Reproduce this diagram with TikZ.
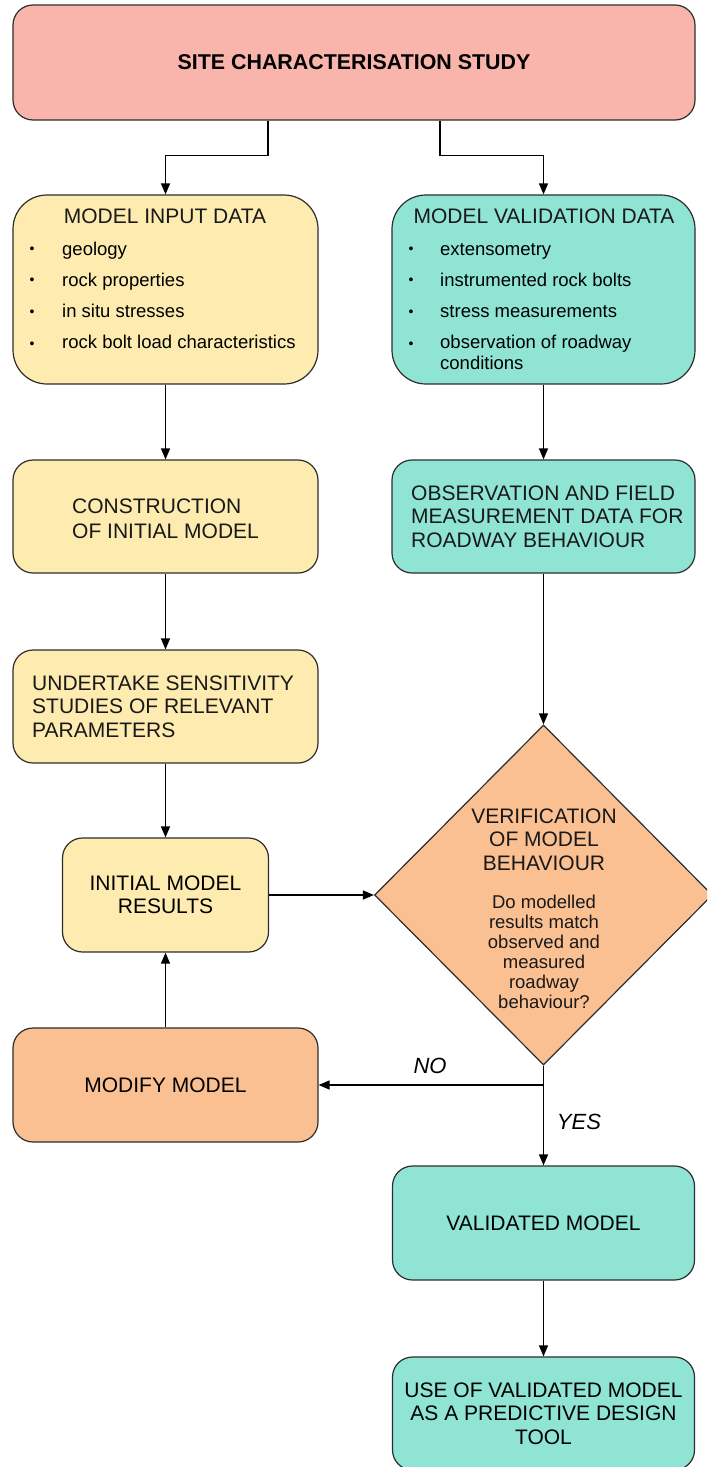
\documentclass[tikz,border=0pt]{standalone}
\usepackage{fontspec}
\setmainfont{Liberation Sans}
\usetikzlibrary{arrows.meta,shapes.geometric}

\definecolor{sitepink}{RGB}{249,181,172}
\definecolor{inputyellow}{RGB}{253,235,176}
\definecolor{validteal}{RGB}{143,228,212}
\definecolor{checkorange}{RGB}{251,192,146}
\definecolor{edgegray}{RGB}{45,45,45}

\newcommand\hdfont{\fontsize{21}{23.5}\selectfont}
\newcommand\bdfont{\fontsize{18.5}{20}\selectfont}

\begin{document}
\begin{tikzpicture}[x=1pt,y=-1pt,
  box/.style={draw=edgegray, line width=1.2pt, rounded corners=20pt, inner sep=0pt,
              font=\hdfont, align=center},
  bigbox/.style={box, rounded corners=34pt},
  txt/.style={inner sep=0pt, text=black!90, font=\hdfont},
  bullet/.style={inner sep=0pt, font=\fontsize{14}{14}\selectfont},
  item/.style={inner sep=0pt, anchor=base west, font=\bdfont},
  arr/.style={draw=black, line width=1.3pt, -{Triangle[length=11pt,width=9pt]}},
  lbl/.style={inner sep=0pt, font=\fontsize{22}{24}\selectfont\itshape}]

\useasboundingbox (0,0) rectangle (707,1467);
\clip (0,0) rectangle (707,1467);

% boxes
\node[box, fill=sitepink, minimum width=682pt, minimum height=115pt] (site) at (354,62.5)
  {\fontsize{21.4}{24}\selectfont\bfseries SITE CHARACTERISATION STUDY};

\node[bigbox, fill=inputyellow, minimum width=305pt, minimum height=189pt] (input) at (165.5,289.5) {};
\node[bigbox, fill=validteal, minimum width=303pt, minimum height=189pt] (valid) at (543.5,289.5) {};

\node[box, fill=inputyellow, minimum width=305pt, minimum height=113pt] (constr) at (165.5,516.5) {};
\node[box, fill=validteal, minimum width=303pt, minimum height=113pt] (obs) at (543.5,516.5) {};

\node[box, fill=inputyellow, minimum width=305pt, minimum height=113pt] (sens) at (165.5,706.5) {};

\node[box, fill=inputyellow, minimum width=206pt, minimum height=114pt] (results) at (165.5,895)
  {INITIAL MODEL\\RESULTS};

\node[diamond, draw=edgegray, line width=1.2pt, fill=checkorange, inner sep=0pt,
      minimum width=338pt, minimum height=340pt] (verif) at (543.5,895) {};

\node[box, fill=checkorange, minimum width=305pt, minimum height=114pt] (modify) at (165.5,1085)
  {MODIFY MODEL};

\node[box, fill=validteal, minimum width=302pt, minimum height=114pt] (validated) at (543.5,1223)
  {VALIDATED MODEL};

\node[box, fill=validteal, minimum width=302pt, minimum height=113pt] (use) at (543.5,1413.5)
  {USE OF VALIDATED MODEL\\AS A PREDICTIVE DESIGN\\TOOL};

% texts of the input data box
\node[txt] (inhead) at (165,216) {MODEL INPUT DATA};
\node[bullet] (inb1) at (32,250) {\textbullet};
\node[bullet] (inb2) at (32,281) {\textbullet};
\node[bullet] (inb3) at (32,313) {\textbullet};
\node[bullet] (inb4) at (32,345) {\textbullet};
\node[item] (ini1) at (62,255) {geology};
\node[item] (ini2) at (62,286) {rock properties};
\node[item] (ini3) at (62,317) {in situ stresses};
\node[item] (ini4) at (62,348) {rock bolt load characteristics};

% texts of the validation data box
\node[txt] (vahead) at (544,216) {MODEL VALIDATION DATA};
\node[bullet] (vab1) at (411,250) {\textbullet};
\node[bullet] (vab2) at (411,281) {\textbullet};
\node[bullet] (vab3) at (411,313) {\textbullet};
\node[bullet] (vab4) at (411,345) {\textbullet};
\node[item] (vai1) at (440,255) {extensometry};
\node[item] (vai2) at (440,286) {instrumented rock bolts};
\node[item] (vai3) at (440,317) {stress measurements};
\node[item] (vai4) at (440,348) {observation of roadway};
\node[item] (vai5) at (440,369) {conditions};

% left-set texts
\node[txt, anchor=west, align=left, font=\fontsize{21}{25}\selectfont] (constrtxt) at (72,519)
  {CONSTRUCTION\\OF INITIAL MODEL};
\node[txt, anchor=west, align=left] (obstxt) at (411,516.5)
  {OBSERVATION AND FIELD\\MEASUREMENT DATA FOR\\ROADWAY BEHAVIOUR};
\node[txt, anchor=west, align=left] (senstxt) at (32,706.5)
  {UNDERTAKE SENSITIVITY\\STUDIES OF RELEVANT\\PARAMETERS};

% texts of the decision
\node[txt, align=center] (verifhead) at (544,839.5)
  {VERIFICATION\\OF MODEL\\BEHAVIOUR};
\node[txt, align=center, font=\bdfont] (verifbody) at (544,952)
  {Do modelled\\results match\\observed and\\measured\\roadway\\behaviour?};

% connectors
\draw[arr] ([xshift=-86pt]site.south) -- ++(0,35) -| (input.north);
\draw[arr] ([xshift=86pt]site.south) -- ++(0,35) -| (valid.north);
\draw[arr] (input.south) -- (constr.north);
\draw[arr] (constr.south) -- (sens.north);
\draw[arr] (sens.south) -- (results.north);
\draw[arr] (valid.south) -- (obs.north);
\draw[arr] (obs.south) -- (verif.north);
\draw[arr] (results.east) -- (verif.west);
\draw[arr] (verif.south) -- (verif.south |- modify.east) -- (modify.east);
\draw[arr] (verif.south) -- (validated.north);
\draw[arr] (modify.north) -- (results.south);
\draw[arr] (validated.south) -- (use.north);

% branch labels
\node[lbl] (no) at (430,1066) {NO};
\node[lbl] (yes) at (579,1122) {YES};

\end{tikzpicture}
\end{document}
